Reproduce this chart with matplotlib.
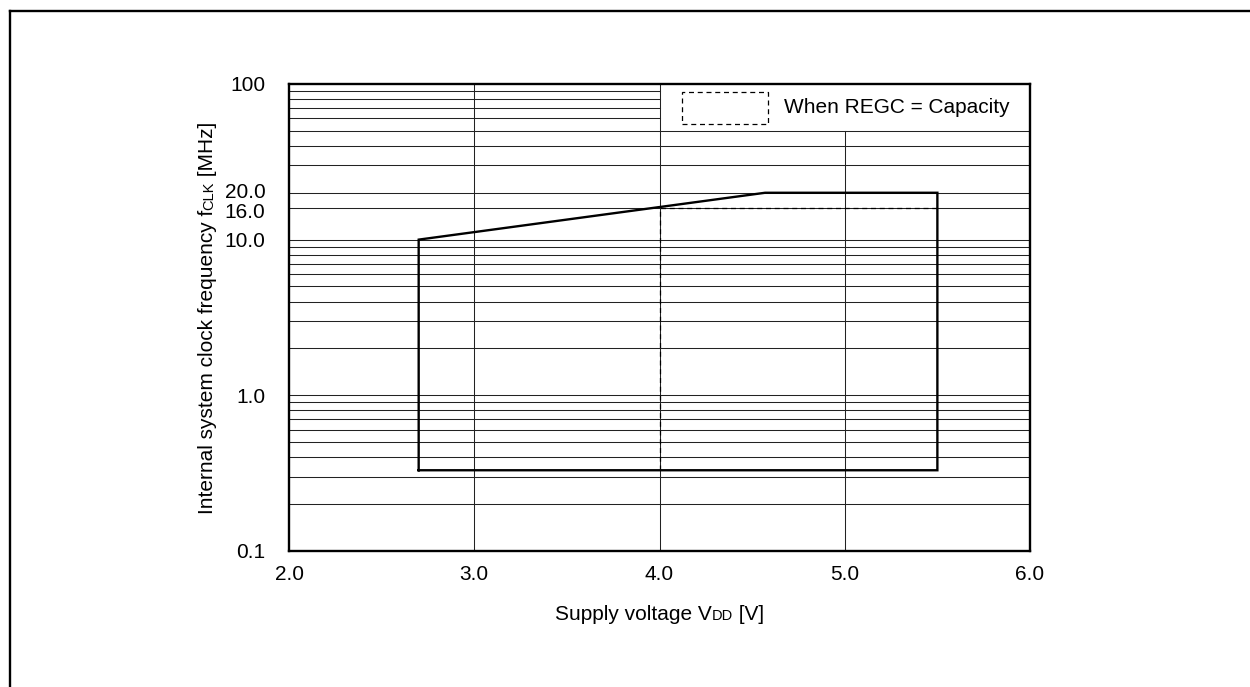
import matplotlib
matplotlib.use("Agg")
import matplotlib.pyplot as plt
from matplotlib.lines import Line2D
from matplotlib.patches import Rectangle
from matplotlib.transforms import IdentityTransform, ScaledTranslation

plt.rcParams['font.family'] = ['Liberation Sans', 'DejaVu Sans']

# operating region (solid) and REGC = capacity limit (dashed)
volt_solid = [2.7, 2.7, 4.57, 5.5, 5.5, 2.7]
freq_solid = [0.33, 10.0, 20.0, 20.0, 0.33, 0.33]
volt_dashed = [4.0, 4.0, 5.5]
freq_dashed = [0.33, 16.0, 16.0]

x_ticks = [2.0, 3.0, 4.0, 5.0, 6.0]
x_ticklabels = ['2.0', '3.0', '4.0', '5.0', '6.0']
y_ticks = [0.1, 1.0, 10.0, 16.0, 20.0, 100]
y_ticklabels = ['0.1', '1.0', '10.0', '16.0', '20.0', '100']

# grid values
grid_v = [3.0, 4.0, 5.0]
grid_f = [0.2, 0.3, 0.4, 0.5, 0.6, 0.7, 0.8, 0.9,
          1, 2, 3, 4, 5, 6, 7, 8, 9,
          10, 16, 20, 30, 40, 50, 60, 70, 80, 90]
legend_label = 'When REGC = Capacity'

FS = 15
FS_SMALL = 10.5

fig = plt.figure(figsize=(12.5, 6.87), dpi=100)
ax = fig.add_axes([0.2312, 0.198, 0.5928, 0.6798])
ax.set_yscale('log')
ax.set_xlim(2.0, 6.0)
ax.set_ylim(0.1, 100)

# grid, kept clear of the legend box (x >= 4.0, f >= 50)
for f in grid_f:
    xmax = 0.5 if f > 50 else 1.0
    ax.axhline(f, xmin=0, xmax=xmax, color='#222222', lw=0.75, zorder=1)
for v in grid_v:
    ymax = 1.0
    if v > 4.0:
        ymax = (2.0 - (-1.0) - (2.0 - 1.69897)) / 3.0
    ax.axvline(v, ymin=0, ymax=ymax, color='#222222', lw=0.75, zorder=1)

ax.plot(volt_solid, freq_solid, color='black', lw=1.7, zorder=3,
        solid_joinstyle='miter')
ax.plot(volt_dashed, freq_dashed, color='black', lw=0.9, ls=(0, (4, 3)), zorder=3)

# legend
ax.add_patch(Rectangle((0.530, 0.914), 0.117, 0.0685, transform=ax.transAxes,
                       fill=False, ec='black', lw=0.9, ls=(0, (4, 3)), zorder=4))
ax.text(0.668, 0.9486, legend_label, transform=ax.transAxes, fontsize=FS,
        va='center', ha='left', zorder=4)

ax.set_xticks(x_ticks)
ax.set_xticklabels(x_ticklabels)
ax.set_yticks(y_ticks)
ax.set_yticklabels(y_ticklabels)
ax.yaxis.set_minor_locator(matplotlib.ticker.NullLocator())
ax.tick_params(axis='both', length=0, labelsize=FS)
ax.tick_params(axis='x', pad=10)
ax.tick_params(axis='y', pad=17)
for s in ax.spines.values():
    s.set_linewidth(1.7)
    s.set_zorder(5)

# 20.0 and 16.0 sit close together: spread them a little
for lab in ax.get_yticklabels():
    if lab.get_text() == '20.0':
        lab.set_transform(lab.get_transform() + ScaledTranslation(0, 2.5 / 100, fig.dpi_scale_trans))
    elif lab.get_text() == '16.0':
        lab.set_transform(lab.get_transform() + ScaledTranslation(0, -2.5 / 100, fig.dpi_scale_trans))

# outer frame (top and left edges)
fig.add_artist(Line2D([9.5 / 1250, 1.0], [1 - 11 / 687, 1 - 11 / 687],
                      color='black', lw=1.7))
fig.add_artist(Line2D([9.5 / 1250, 9.5 / 1250], [0.0, 1 - 11 / 687],
                      color='black', lw=1.7))

# axis labels with small subscripts on the baseline
renderer = fig.canvas.get_renderer()


def piece_label(parts, cx, cy, rotation=0):
    # parts: list of (text, size); placed along the baseline, centred on (cx, cy) in pixels
    probes = []
    for txt, size in parts:
        t = fig.text(0, 0, txt, fontsize=size, rotation=rotation,
                     rotation_mode='anchor', ha='left', va='baseline',
                     transform=IdentityTransform())
        bb = t.get_window_extent(renderer)
        probes.append((t, bb.height if rotation else bb.width))
    total = sum(p[1] for p in probes)
    pos = (cy if rotation else cx) - total / 2
    for t, length in probes:
        if rotation:
            t.set_position((cx, pos))
        else:
            t.set_position((pos, cy))
        pos += length


# pixel coords from bottom-left
piece_label([('Supply voltage V', FS), ('DD', FS_SMALL), (' [V]', FS)],
            659.5, 687 - 620)
piece_label([('Internal system clock frequency f', FS), ('CLK', FS_SMALL),
             (' [MHz]', FS)], 213, 687 - 318, rotation=90)

fig.savefig('out.png', dpi=100)
